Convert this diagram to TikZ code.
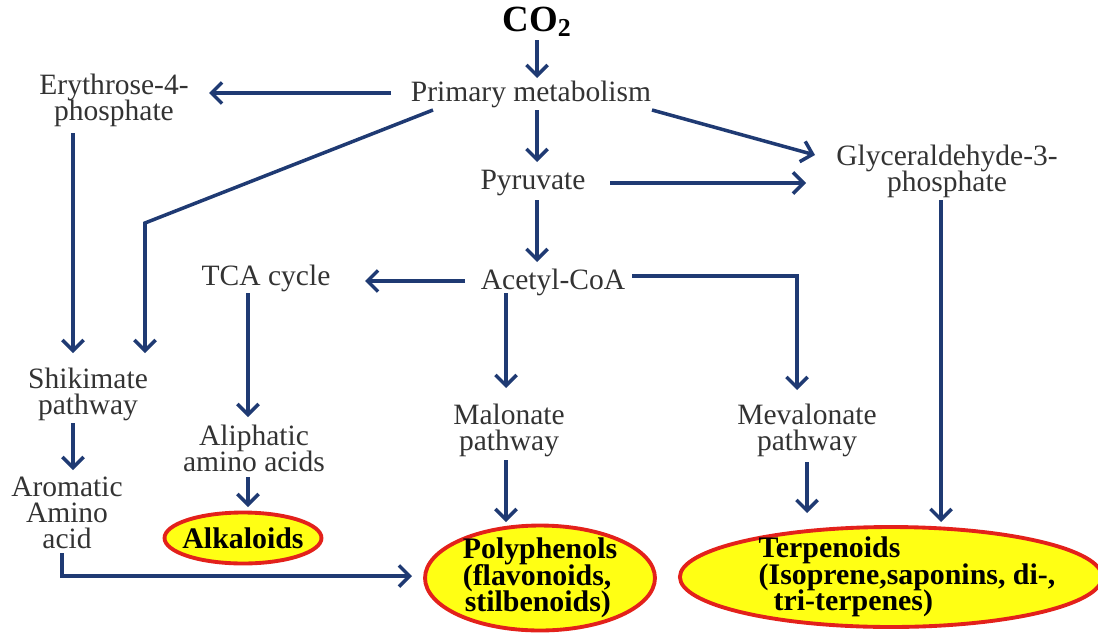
\documentclass[tikz,border=0pt]{standalone}
\usepackage{fontspec}
\setmainfont{Liberation Serif}
\usetikzlibrary{arrows.meta,calc,shapes.geometric}
\definecolor{navy}{HTML}{1F3A73}
\definecolor{txtgray}{HTML}{333333}
\definecolor{prodred}{HTML}{E3211B}
\definecolor{prodyellow}{HTML}{FFFF14}

\begin{document}
\begin{tikzpicture}[x=0.02cm,y=-0.02cm,
  lbl/.style={text=txtgray,align=center,inner sep=0pt,font={\fontsize{16.8}{14.8}\selectfont\lineskiplimit=-10pt}},
  prod/.style={ellipse,draw=prodred,line width=2.2pt,fill=prodyellow,inner sep=-0.3cm,align=left,font={\bfseries\fontsize{17}{15}\selectfont\lineskiplimit=-10pt}},
  arr/.style={navy,line width=2pt,-{Straight Barb[length=6pt,width=12pt]}}]
\useasboundingbox (0,0) rectangle (1098,632);

% Sources
\node[font=\bfseries\fontsize{21}{23}\selectfont] (co2) at (537,22) {CO\textsubscript{2}};
\node[lbl] (prim) at (531,94) {Primary metabolism};

% Intermediates
\node[lbl] (ery) at (114,100) {Erythrose-4-\\phosphate};
\node[lbl] (pyr) at (533,183) {Pyruvate};
\node[lbl] (glyc) at (947,171) {Glyceraldehyde-3-\\phosphate};
\node[lbl] (acetyl) at (553,282) {Acetyl-CoA};
\node[lbl] (tca) at (266,278) {TCA cycle};

% Pathways
\node[lbl] (shik) at (88,394) {Shikimate\\pathway};
\node[lbl] (malo) at (509,430) {Malonate\\pathway};
\node[lbl] (mevalo) at (807,430) {Mevalonate\\pathway};
\node[lbl] (aliph) at (254,448) {Aliphatic\\amino acids};
\node[lbl] (arom) at (67,513) {Aromatic\\Amino\\acid};

% Products
\node[prod,minimum width=3.14cm,minimum height=1.02cm] (alk) at (243,538) {Alkaloids};
\node[prod,minimum width=4.6cm,minimum height=2.1cm] (poly) at (540,578) {Polyphenols\\(flavonoids,\\\hspace*{0.04cm}stilbenoids)};
\node[prod,minimum width=8.36cm,minimum height=2.0cm] (terp) at (891,577) {\hspace*{0.64cm}Terpenoids\\\hspace*{0.64cm}(Isoprene,saponins, di-,\\\hspace*{0.94cm}tri-terpenes)};

% Arrows from the top
\draw[arr] ($(co2)+(0,18)$) -- ($(prim)+(6,-16)$);
\draw[arr] ($(prim)+(-140,-1)$) -- ($(ery)+(95,-7)$);
\draw[arr] ($(prim)+(6,16)$) -- ($(pyr)+(4,-21)$);
\draw[arr] ($(prim)+(121,16)$) -- ($(glyc)+(-132,-16)$);
\draw[arr] ($(prim)+(-98,16)$) -- ($(shik)+(57,-171)$) -- ($(shik)+(57,-41)$);
\draw[arr] ($(pyr)+(77,0)$) -- ($(glyc)+(-141,12)$);
\draw[arr] ($(pyr)+(4,17)$) -- ($(acetyl)+(-16,-20)$);

% Acetyl-CoA branches
\draw[arr] ($(acetyl)+(-88,-1)$) -- ($(tca)+(99,3)$);
\draw[arr] ($(acetyl)+(79,-6)$) -| ($(mevalo)+(-10,-40)$);
\draw[arr] ($(acetyl)+(-47,11)$) -- ($(malo)+(-3,-42)$);

% Down to the products
\draw[arr] ($(ery)+(-41,33)$) -- ($(shik)+(-15,-41)$);
\draw[arr] ($(shik)+(-15,29)$) -- ($(arom)+(6,-43)$);
\draw[arr] ($(tca)+(-18,15)$) -- ($(aliph)+(-6,-31)$);
\draw[arr] ($(aliph)+(-6,29)$) -- ($(alk)+(5,-31)$);
\draw[arr] ($(malo)+(-3,30)$) -- ($(poly)+(-34,-56)$);
\draw[arr] ($(mevalo)+(0,32)$) -- ($(terp)+(-84,-64)$);
\draw[arr] ($(glyc)+(-6,29)$) -- ($(terp)+(50,-55)$);
\draw[arr] ($(arom)+(-5,40)$) |- ($(poly)+(-128,-2)$);
\end{tikzpicture}
\end{document}
